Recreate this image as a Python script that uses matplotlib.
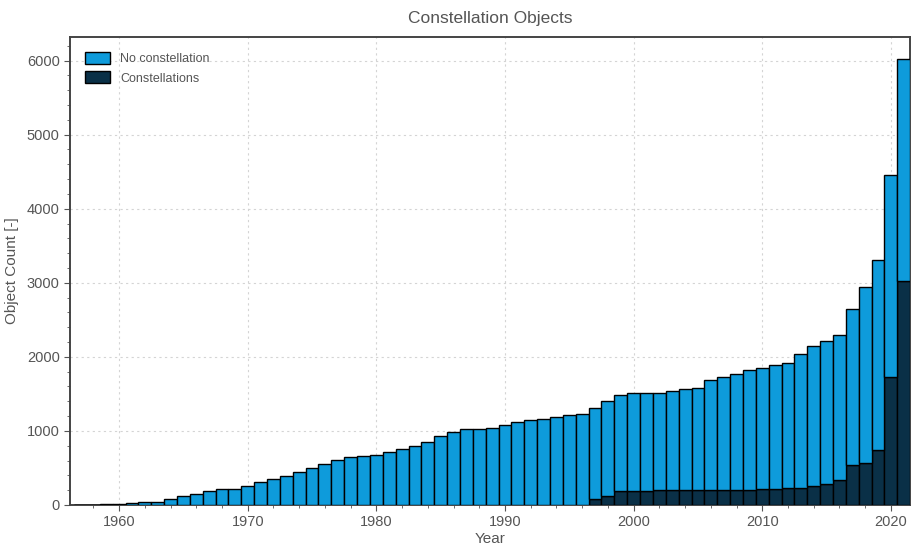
import numpy as np
import matplotlib.pyplot as plt
from matplotlib.ticker import MultipleLocator

plt.rcParams['font.family'] = ['Liberation Sans', 'DejaVu Sans']

years = np.arange(1957, 2022)

# objects launched in constellations (cumulative)
constellations = np.array([
    0, 0, 0, 0, 0, 0, 0, 0, 0, 0,            # 1957-1966
    0, 0, 0, 0, 0, 0, 0, 0, 0, 0,            # 1967-1976
    0, 0, 0, 0, 0, 0, 0, 0, 0, 0,            # 1977-1986
    0, 0, 0, 0, 0, 0, 0, 0, 0, 0,            # 1987-1996
    76, 115, 185, 193, 195, 196, 197, 198, 200, 202,   # 1997-2006
    204, 206, 208, 212, 220, 226, 230, 256, 290, 336,  # 2007-2016
    540, 572, 745, 1730, 3030,                          # 2017-2021
])

# cumulative total of all objects
total = np.array([
    2, 5, 10, 15, 25, 35, 45, 85, 125, 150,            # 1957-1966
    190, 215, 220, 255, 310, 355, 395, 445, 500, 555,  # 1967-1976
    605, 650, 655, 680, 715, 755, 800, 855, 935, 985,  # 1977-1986
    1025, 1030, 1045, 1080, 1120, 1145, 1160, 1185, 1215, 1225,  # 1987-1996
    1305, 1405, 1480, 1510, 1512, 1515, 1540, 1560, 1580, 1685,  # 1997-2006
    1730, 1765, 1820, 1845, 1885, 1920, 2045, 2150, 2210, 2300,  # 2007-2016
    2650, 2945, 3310, 4450, 6020,                                # 2017-2021
])
no_constellation = total - constellations

blue = '#0E9BDB'
dark = '#0A3047'
grey = '#555555'

fig = plt.figure(figsize=(9.12, 5.58), dpi=100)
ax = fig.add_axes([0.077, 0.095, 0.921, 0.839])

ax.bar(years, constellations, width=1.0, color=dark, edgecolor='black',
       linewidth=1.0, label='Constellations', zorder=3)
ax.bar(years, no_constellation, width=1.0, bottom=constellations, color=blue,
       edgecolor='black', linewidth=1.0, label='No constellation', zorder=3)

ax.set_xlim(1956.2, 2021.5)
ax.set_ylim(0, 6320)
ax.xaxis.set_major_locator(MultipleLocator(10))
ax.xaxis.set_minor_locator(MultipleLocator(2))
ax.yaxis.set_major_locator(MultipleLocator(1000))
ax.yaxis.set_minor_locator(MultipleLocator(200))
ax.grid(True, which='major', linestyle=(0, (2, 3)), color='#d4d4d4',
        linewidth=0.8, zorder=0)

ax.tick_params(which='both', colors=grey, labelsize=10.5)
ax.tick_params(which='major', length=4)
ax.tick_params(which='minor', length=2.5)
for s in ax.spines.values():
    s.set_color('#444444')
    s.set_linewidth(1.4)

ax.set_title('Constellation Objects', fontsize=12.5, color=grey, pad=10)
ax.set_xlabel('Year', fontsize=11, color=grey, labelpad=2)
ax.set_ylabel('Object Count [-]', fontsize=11, color=grey, labelpad=6)

handles, labels = ax.get_legend_handles_labels()
leg = ax.legend(handles[::-1], labels[::-1], loc='upper left', frameon=False,
                fontsize=9, handlelength=2.0, handleheight=1.1,
                borderaxespad=0.8)
for t in leg.get_texts():
    t.set_color(grey)

fig.savefig('out.png', dpi=100)
